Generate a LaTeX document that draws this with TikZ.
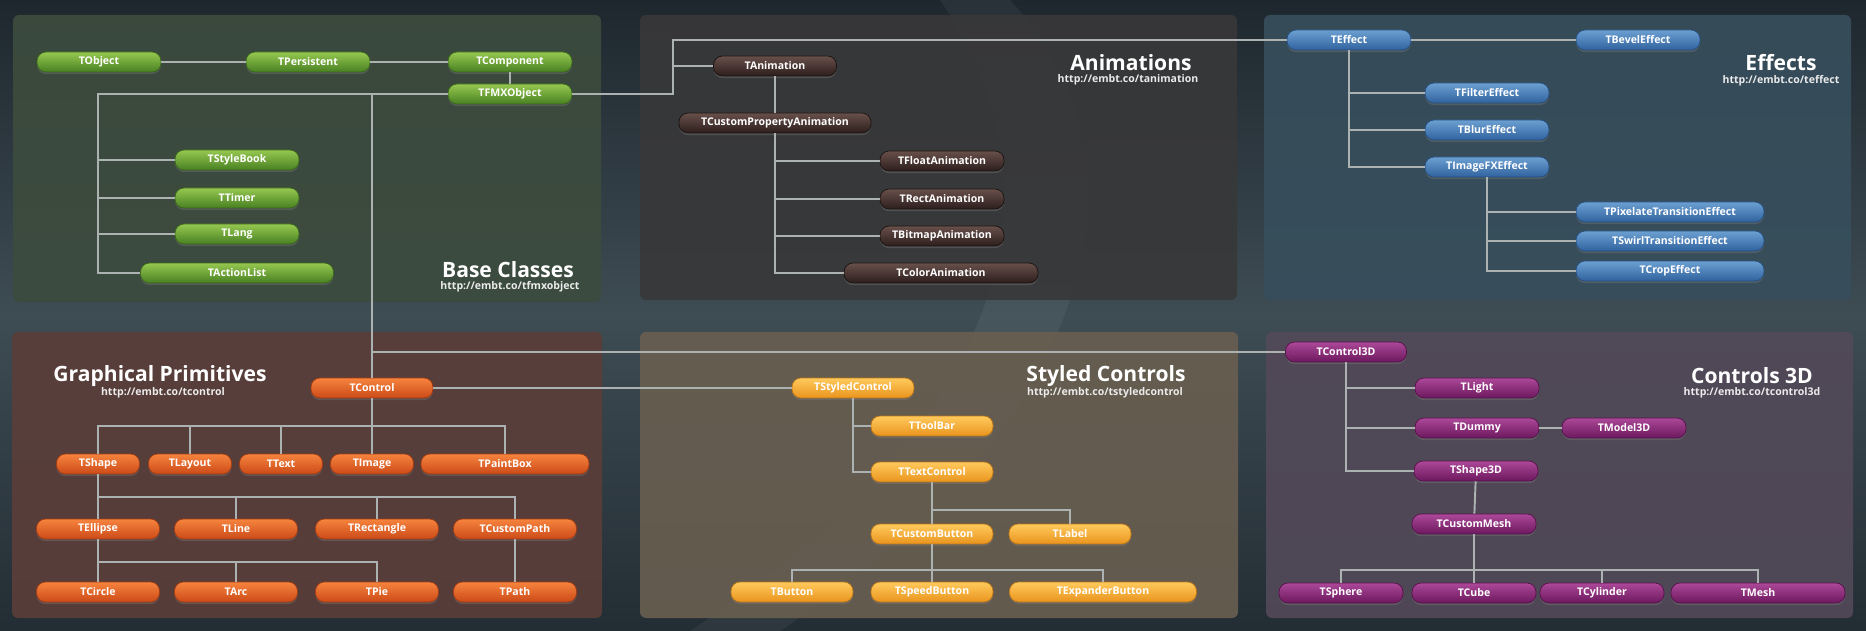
\documentclass[tikz,border=0pt]{standalone}
\usepackage{fontspec}
\setmainfont{Open Sans}
\usepackage{xcolor}
\usepackage{tikz}
\usetikzlibrary{positioning,calc,shadows}

\definecolor{bgdark}{RGB}{30,39,46}
\definecolor{bgmid}{RGB}{62,76,84}
\definecolor{panelbase}{RGB}{61,76,62}
\definecolor{panelanim}{RGB}{56,56,57}
\definecolor{paneleff}{RGB}{55,78,92}
\definecolor{panelprim}{RGB}{90,62,57}
\definecolor{panelstyle}{RGB}{104,94,80}
\definecolor{panelthreed}{RGB}{82,73,88}
\definecolor{linkgray}{RGB}{172,177,178}
\definecolor{grntop}{RGB}{150,200,80}
\definecolor{grnbot}{RGB}{72,128,34}
\definecolor{brntop}{RGB}{104,80,74}
\definecolor{brnbot}{RGB}{44,30,28}
\definecolor{blutop}{RGB}{108,160,210}
\definecolor{blubot}{RGB}{48,98,158}
\definecolor{orgtop}{RGB}{246,132,62}
\definecolor{orgbot}{RGB}{204,74,24}
\definecolor{ambtop}{RGB}{255,202,92}
\definecolor{ambbot}{RGB}{234,148,30}
\definecolor{purtop}{RGB}{172,72,152}
\definecolor{purbot}{RGB}{108,24,94}

\newcommand\clsfont{\bfseries\fontsize{6}{7}\selectfont}
\newcommand\paneltitle{\bfseries\fontsize{12}{14}\selectfont}
\newcommand\panelurl{\bfseries\fontsize{6}{7}\selectfont}

\begin{document}
\begin{tikzpicture}[
  x=0.02cm, y=-0.02cm,
  box/.style={rounded corners=0.18cm, minimum width=2.48cm, minimum height=0.4cm,
    inner sep=0pt, font=\clsfont, text=white, line width=0.4pt,
    drop shadow={opacity=0.35, shadow xshift=0pt, shadow yshift=-1.2pt}},
  basebox/.style={box, top color=grntop, bottom color=grnbot, draw=grnbot!80!black},
  animbox/.style={box, top color=brntop, bottom color=brnbot, draw=brnbot!60!black},
  effbox/.style={box, top color=blutop, bottom color=blubot, draw=blubot!80!black},
  primbox/.style={box, top color=orgtop, bottom color=orgbot, draw=orgbot!80!black},
  stylbox/.style={box, top color=ambtop, bottom color=ambbot, draw=ambbot!80!black},
  threedbox/.style={box, top color=purtop, bottom color=purbot, draw=purbot!80!black},
  panel/.style={rounded corners=0.12cm},
  title/.style={text=white, font=\paneltitle, inner sep=0pt},
  url/.style={text=white!92!black, font=\panelurl, inner sep=0pt},
  link/.style={draw=linkgray, line width=1.1pt}
]
  \useasboundingbox (0,0) rectangle (1866,631);
  % Background
  \shade[top color=bgdark, bottom color=bgdark!85!bgmid, middle color=bgmid] (0,0) rectangle (1866,631);
  \fill[white, opacity=0.05] (1010,0) .. controls (1160,160) and (1100,420) .. (780,631)
    -- (690,631) .. controls (1010,420) and (1070,190) .. (940,0) -- cycle;

  % Panels
  \fill[panel, panelbase, opacity=0.92] (13,15) rectangle (601,302);
  \fill[panel, panelanim, opacity=0.92] (640,15) rectangle (1237,300);
  \fill[panel, paneleff, opacity=0.92] (1264,15) rectangle (1851,300);
  \fill[panel, panelprim, opacity=0.92] (12,332) rectangle (602,618);
  \fill[panel, panelstyle, opacity=0.92] (640,332) rectangle (1238,618);
  \fill[panel, panelthreed, opacity=0.92] (1266,332) rectangle (1853,618);

  % Titles
  \node[title] (basetitle) at (508,270) {Base Classes};
  \node[url] (baseurl) at (510,287) {http://embt.co/tfmxobject};
  \node[title] (animtitle) at (1131,63) {Animations};
  \node[url] (animurl) at (1128,80) {http://embt.co/tanimation};
  \node[title] (efftitle) at (1781,63) {Effects};
  \node[url] (effurl) at (1781,81) {http://embt.co/teffect};
  \node[title] (primtitle) at (160,376) {Graphical Primitives};
  \node[url] (primurl) at (163,393) {http://embt.co/tcontrol};
  \node[title] (styltitle) at (1106,376) {Styled Controls};
  \node[url] (stylurl) at (1105,393) {http://embt.co/tstyledcontrol};
  \node[title] (threedtitle) at (1752,376) {Controls 3D};
  \node[url] (threedurl) at (1752,393) {http://embt.co/tcontrol3d};

  % Base classes
  \node[basebox] (tobject) at (99,62) {TObject};
  \node[basebox] (tpersistent) at (308,62) {TPersistent};
  \node[basebox] (tcomponent) at (510,62) {TComponent};
  \node[basebox] (tfmx) at (510,94) {TFMXObject};
  \node[basebox] (tstylebook) at (237,160) {TStyleBook};
  \node[basebox] (ttimer) at (237,198) {TTimer};
  \node[basebox] (tlang) at (237,234) {TLang};
  \node[basebox, minimum width=3.86cm] (tactionlist) at (237,273) {TActionList};

  % Animations
  \node[animbox, minimum width=2.46cm] (tanimation) at (775,66) {TAnimation};
  \node[animbox, minimum width=3.84cm] (tcustomprop) at (775,123) {TCustomPropertyAnimation};
  \node[animbox] (tfloat) at (942,161) {TFloatAnimation};
  \node[animbox] (trect) at (942,199) {TRectAnimation};
  \node[animbox] (tbitmap) at (942,236) {TBitmapAnimation};
  \node[animbox, minimum width=3.88cm] (tcolor) at (941,273) {TColorAnimation};

  % Effects
  \node[effbox] (teffect) at (1349,40) {TEffect};
  \node[effbox] (tbevel) at (1638,40) {TBevelEffect};
  \node[effbox] (tfilter) at (1487,93) {TFilterEffect};
  \node[effbox] (tblur) at (1487,130) {TBlurEffect};
  \node[effbox] (timagefx) at (1487,167) {TImageFXEffect};
  \node[effbox, minimum width=3.76cm] (tpixelate) at (1670,212) {TPixelateTransitionEffect};
  \node[effbox, minimum width=3.76cm] (tswirl) at (1670,241) {TSwirlTransitionEffect};
  \node[effbox, minimum width=3.76cm] (tcrop) at (1670,271) {TCropEffect};

  % Graphical primitives
  \node[primbox, minimum width=2.44cm] (tcontrol) at (372,388) {TControl};
  \node[primbox, minimum width=1.66cm] (tshape) at (98,464) {TShape};
  \node[primbox, minimum width=1.66cm] (tlayout) at (190,464) {TLayout};
  \node[primbox, minimum width=1.66cm] (ttext) at (281,464) {TText};
  \node[primbox, minimum width=1.66cm] (timage) at (372,464) {TImage};
  \node[primbox, minimum width=3.36cm] (tpaintbox) at (505,464) {TPaintBox};
  \node[primbox, minimum width=2.46cm] (tellipse) at (98,529) {TEllipse};
  \node[primbox, minimum width=2.46cm] (tline) at (236,529) {TLine};
  \node[primbox, minimum width=2.46cm] (trectangle) at (377,529) {TRectangle};
  \node[primbox, minimum width=2.46cm] (tcustompath) at (515,529) {TCustomPath};
  \node[primbox, minimum width=2.46cm] (tcircle) at (98,592) {TCircle};
  \node[primbox, minimum width=2.46cm] (tarc) at (236,592) {TArc};
  \node[primbox, minimum width=2.46cm] (tpie) at (377,592) {TPie};
  \node[primbox, minimum width=2.46cm] (tpath) at (515,592) {TPath};

  % Styled controls
  \node[stylbox, minimum width=2.44cm] (tstyled) at (853,388) {TStyledControl};
  \node[stylbox, minimum width=2.44cm] (ttoolbar) at (932,426) {TToolBar};
  \node[stylbox, minimum width=2.44cm] (ttextcontrol) at (932,472) {TTextControl};
  \node[stylbox, minimum width=2.44cm] (tcustombutton) at (932,534) {TCustomButton};
  \node[stylbox, minimum width=2.44cm] (tlabel) at (1070,534) {TLabel};
  \node[stylbox, minimum width=2.44cm] (tbutton) at (792,592) {TButton};
  \node[stylbox, minimum width=2.44cm] (tspeed) at (932,592) {TSpeedButton};
  \node[stylbox, minimum width=3.74cm] (texpander) at (1103,592) {TExpanderButton};

  % Controls 3D
  \node[threedbox, minimum width=2.42cm] (tcontrolthreed) at (1346,352) {TControl3D};
  \node[threedbox] (tlight) at (1477,388) {TLight};
  \node[threedbox] (tdummy) at (1477,428) {TDummy};
  \node[threedbox] (tmodel) at (1624,428) {TModel3D};
  \node[threedbox] (tshapethreed) at (1476,471) {TShape3D};
  \node[threedbox] (tcustommesh) at (1474,524) {TCustomMesh};
  \node[threedbox] (tsphere) at (1341,593) {TSphere};
  \node[threedbox] (tcube) at (1474,593) {TCube};
  \node[threedbox] (tcylinder) at (1602,593) {TCylinder};
  \node[threedbox, minimum width=3.48cm] (tmesh) at (1758,593) {TMesh};

  % Joints
  \coordinate (basetrunk) at (98,94);
  \coordinate (fmxdown) at (372,94);
  \coordinate (fmxright) at (673,94);
  \coordinate (primbus) at (0,426);
  \coordinate (shapebus) at (0,497);
  \coordinate (ellipsebus) at (0,562);
  \coordinate (labelbus) at (0,510);
  \coordinate (buttonbus) at (0,570);
  \coordinate (meshbus) at (0,570);

  % Links - base classes
  \draw[link] (tobject) -- (tpersistent);
  \draw[link] (tpersistent) -- (tcomponent);
  \draw[link] (tcomponent) -- (tfmx);
  \draw[link] (tfmx.west) -- (basetrunk) |- (tactionlist.west);
  \draw[link] (basetrunk) |- (tstylebook.west);
  \draw[link] (basetrunk) |- (ttimer.west);
  \draw[link] (basetrunk) |- (tlang.west);
  \draw[link] (tfmx.east) -- (fmxright) |- (teffect.west);
  \draw[link] (fmxright |- tanimation) -- (tanimation.west);
  \draw[link] (fmxdown) -- (tcontrol.north);
  \draw[link] (fmxdown |- tcontrolthreed) -- (tcontrolthreed.west);

  % Links - animations
  \draw[link] (tanimation) -- (tcustomprop);
  \draw[link] (tcustomprop.south) |- (tfloat.west);
  \draw[link] (tcustomprop.south) |- (trect.west);
  \draw[link] (tcustomprop.south) |- (tbitmap.west);
  \draw[link] (tcustomprop.south) |- (tcolor.west);

  % Links - effects
  \draw[link] (teffect) -- (tbevel);
  \draw[link] (teffect.south) |- (tfilter.west);
  \draw[link] (teffect.south) |- (tblur.west);
  \draw[link] (teffect.south) |- (timagefx.west);
  \draw[link] (timagefx.south) |- (tpixelate.west);
  \draw[link] (timagefx.south) |- (tswirl.west);
  \draw[link] (timagefx.south) |- (tcrop.west);

  % Links - graphical primitives
  \draw[link] (tcontrol) -- (timage);
  \draw[link] (tcontrol) -- (tstyled);
  \draw[link] (tshape.north) |- (primbus -| tpaintbox) -- (tpaintbox.north);
  \draw[link] (tlayout.north) -- (tlayout.north |- primbus);
  \draw[link] (ttext.north) -- (ttext.north |- primbus);
  \draw[link] (tshape) -- (tellipse);
  \draw[link] (tshape.south |- shapebus) -| (tcustompath.north);
  \draw[link] (tline.north) -- (tline.north |- shapebus);
  \draw[link] (trectangle.north) -- (trectangle.north |- shapebus);
  \draw[link] (tellipse) -- (tcircle);
  \draw[link] (tellipse.south |- ellipsebus) -| (tpie.north);
  \draw[link] (tarc.north) -- (tarc.north |- ellipsebus);
  \draw[link] (tcustompath) -- (tpath);

  % Links - styled controls
  \draw[link] (tstyled.south) |- (ttoolbar.west);
  \draw[link] (tstyled.south) |- (ttextcontrol.west);
  \draw[link] (ttextcontrol) -- (tcustombutton);
  \draw[link] (ttextcontrol.south |- labelbus) -| (tlabel.north);
  \draw[link] (tcustombutton) -- (tspeed);
  \draw[link] (tbutton.north) |- (buttonbus -| texpander) -- (texpander.north);

  % Links - controls 3D
  \draw[link] (tcontrolthreed.south) |- (tlight.west);
  \draw[link] (tcontrolthreed.south) |- (tdummy.west);
  \draw[link] (tcontrolthreed.south) |- (tshapethreed.west);
  \draw[link] (tdummy) -- (tmodel);
  \draw[link] (tshapethreed) -- (tcustommesh);
  \draw[link] (tcustommesh) -- (tcube);
  \draw[link] (tsphere.north) |- (meshbus -| tmesh) -- (tmesh.north);
  \draw[link] (tcylinder.north) -- (tcylinder.north |- meshbus);
\end{tikzpicture}
\end{document}
